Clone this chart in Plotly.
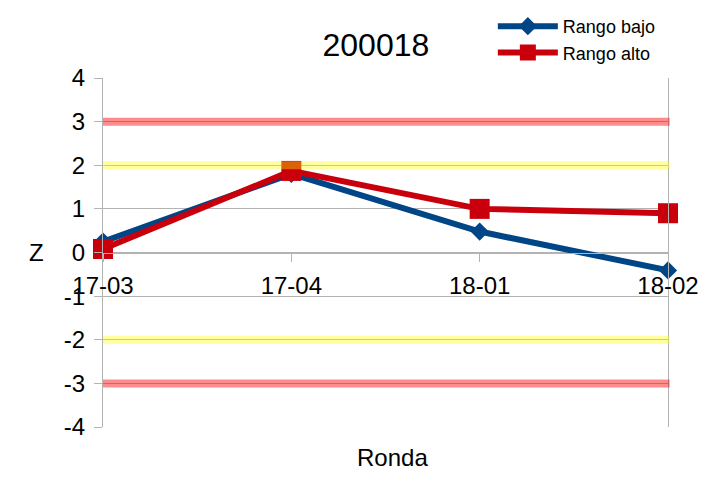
import plotly.graph_objects as go

categories = ["17-03", "17-04", "18-01", "18-02"]
rango_bajo = [0.25, 1.8, 0.48, -0.41]
rango_alto = [0.08, 1.87, 1.0, 0.9]
red_limits = [3, -3]
yellow_limits = [2, -2]
y_ticks = [-4, -3, -2, -1, 0, 1, 2, 3, 4]
y_tick_labels = ["-4", "-3", "-2", "-1", "0", "1", "2", "3", "4"]

FONT = "Liberation Sans, Arial, sans-serif"
BLUE = "#004586"
RED = "#c9000c"

fig = go.Figure()
fig.add_trace(go.Scatter(
    x=categories, y=rango_bajo, name="Rango bajo", mode="lines+markers",
    line=dict(color=BLUE, width=6),
    marker=dict(symbol="diamond", size=14, color=BLUE),
    cliponaxis=False,
))
fig.add_trace(go.Scatter(
    x=categories, y=rango_alto, name="Rango alto", mode="lines+markers",
    line=dict(color=RED, width=6),
    marker=dict(symbol="square", size=20, color=RED),
    cliponaxis=False,
))

shapes = []
for v in red_limits:
    shapes.append(dict(type="line", xref="paper", yref="y", x0=0, x1=1.003, y0=v, y1=v,
                       line=dict(color="rgba(255,0,0,0.45)", width=8), layer="above"))
for v in yellow_limits:
    shapes.append(dict(type="line", xref="paper", yref="y", x0=0, x1=1.003, y0=v, y1=v,
                       line=dict(color="rgba(255,255,0,0.38)", width=8), layer="above"))

fig.update_layout(
    width=720, height=485,
    margin=dict(l=95, r=60, t=70, b=66, autoexpand=False),
    paper_bgcolor="white", plot_bgcolor="white",
    font=dict(family=FONT, color="black", size=24),
    title=dict(text="200018", x=0.511, xref="container", y=0.924, yanchor="middle",
               xanchor="center", font=dict(size=32, family=FONT)),
    showlegend=True,
    legend=dict(x=0.69, xref="paper", y=1.0, yref="container", yanchor="top", xanchor="left",
                font=dict(size=18, family=FONT), itemwidth=60, bgcolor="rgba(0,0,0,0)",
                tracegroupgap=0),
    shapes=shapes,
    annotations=[
        dict(text="Ronda", xref="paper", yref="paper", x=0.513, y=-0.086,
             showarrow=False, font=dict(size=24, family=FONT), xanchor="center", yanchor="middle"),
        dict(text="Z", xref="paper", yref="y", x=-0.117, y=0,
             showarrow=False, font=dict(size=24, family=FONT), xanchor="center", yanchor="middle"),
    ],
    xaxis=dict(
        type="category", range=[0, len(categories) - 1],
        anchor="free", position=0.5,
        showline=True, linecolor="#b3b3b3", linewidth=1,
        ticks="outside", ticklen=8, tickcolor="#b3b3b3",
        showgrid=False, zeroline=False,
        tickfont=dict(size=24, family=FONT),
        ticklabelstandoff=4,
    ),
    yaxis=dict(
        range=[-4, 4], tickvals=y_ticks, ticktext=y_tick_labels,
        showline=True, linecolor="#b3b3b3", linewidth=1, mirror=True,
        ticks="outside", ticklen=8, tickcolor="#b3b3b3",
        showgrid=True, gridcolor="#b3b3b3", gridwidth=1,
        zeroline=False,
        tickfont=dict(size=24, family=FONT),
        ticklabelstandoff=4,
    ),
)

fig.write_html("out.html")
